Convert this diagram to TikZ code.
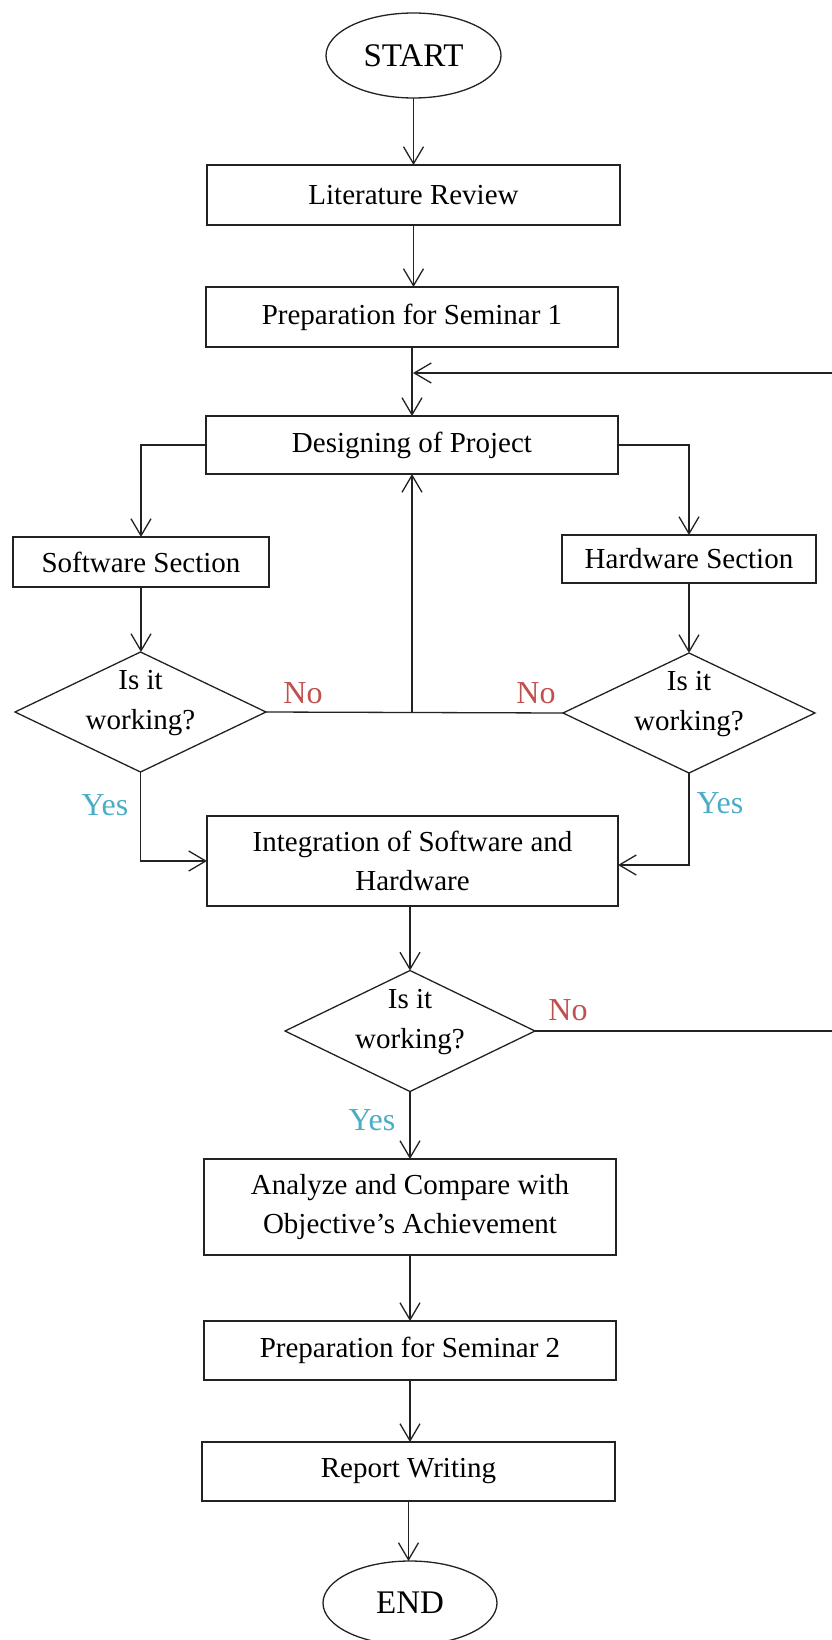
\documentclass[tikz,border=0pt]{standalone}
\usepackage{fontspec}
\setmainfont{Liberation Serif}
\usetikzlibrary{shapes.geometric,arrows.meta,calc}
\definecolor{lineC}{HTML}{222222}
\definecolor{noC}{HTML}{C0504D}
\definecolor{yesC}{HTML}{4BACC6}
\begin{document}
\begin{tikzpicture}[x=1pt,y=-1pt,
  every node/.style={inner sep=0pt, outer sep=0pt},
  procbox/.style={draw=lineC, line width=1.4pt, rectangle, align=center,
     font=\fontsize{29}{39}\selectfont},
  termnode/.style={draw=lineC, line width=1.3pt, ellipse, font=\fontsize{33}{36}\selectfont},
  decide/.style={draw=lineC, line width=1.3pt, diamond},
  dtext/.style={align=center, font=\fontsize{29}{40}\selectfont},
  arr/.style={draw=lineC, line width=1.3pt, -{Straight Barb[length=17pt,width=20pt]}},
  conn/.style={draw=lineC, line width=1.3pt},
  nolab/.style={text=noC, font=\fontsize{32}{36}\selectfont},
  yeslab/.style={text=yesC, font=\fontsize{32}{36}\selectfont}
]
\useasboundingbox (0,0) rectangle (831,1640);

\node[termnode, minimum width=175pt, minimum height=85pt] (start) at (413.5,55.5) {START};
\node[procbox, minimum width=413pt, minimum height=60pt] (lit) at (413.5,195) {Literature Review};
\node[procbox, minimum width=412pt, minimum height=60pt] (prep1) at (412,317) {Preparation for Seminar 1};
\node[procbox, minimum width=412pt, minimum height=58pt] (design) at (412,445) {Designing of Project};
\node[procbox, minimum width=256pt, minimum height=50pt] (soft) at (141,562) {Software Section};
\node[procbox, minimum width=254pt, minimum height=48pt] (hard) at (689,559) {Hardware Section};
\node[decide, minimum width=251pt, minimum height=120pt] (d1) at (140.5,712) {};
\node[dtext] (d1t) at (140.5,703) {Is it\\working?};
\node[decide, minimum width=252pt, minimum height=120pt] (d2) at (689,713) {};
\node[dtext] (d2t) at (689,704) {Is it\\working?};
\node[procbox, minimum width=411pt, minimum height=90pt] (integ) at (412.5,861) {Integration of Software and\\Hardware};
\node[decide, minimum width=250pt, minimum height=121pt] (d3) at (410,1031) {};
\node[dtext] (d3t) at (410,1022) {Is it\\working?};
\node[procbox, minimum width=412pt, minimum height=96pt] (analyze) at (410,1207) {Analyze and Compare with\\Objective’s Achievement};
\node[procbox, minimum width=412pt, minimum height=59pt] (prep2) at (410,1350.5) {Preparation for Seminar 2};
\node[procbox, minimum width=413pt, minimum height=59pt] (report) at (408.5,1471.5) {Report Writing};
\node[termnode, minimum width=174pt, minimum height=84pt] (end) at (410,1603) {END};

% labels
\node[nolab] (no1) at (303,693) {No};
\node[nolab] (no2) at (536,693) {No};
\node[nolab] (no3) at (568,1010) {No};
\node[yeslab] (yes1) at (105,805) {Yes};
\node[yeslab] (yes2) at (720,803) {Yes};
\node[yeslab] (yes3) at (372,1120) {Yes};

% connectors
\draw[arr] (start.south) -- (start.south |- lit.north);
\draw[arr] (lit.south) -- (lit.south |- prep1.north);
\draw[arr] (prep1.south) -- (design.north);
\draw[arr] (design.west) -| (soft.north);
\draw[arr] (design.east) -| (hard.north);
\draw[arr] (soft.south) -- (soft.south |- d1.north);
\draw[arr] (hard.south) -- (d2.north);
\draw[conn] (d1.east) -- (d2.west);
\coordinate (nomid) at (design.south |- d1.east);
\draw[arr] (nomid) -- (design.south);
\draw[arr] (d1.south) |- (integ.west);
\draw[arr] (d2.south) |- ([yshift=-4pt]integ.east);
\draw[arr] (integ.south -| d3.north) -- (d3.north);
\draw[arr] (d3.south) -- (analyze.north);
\draw[arr] (analyze.south) -- (prep2.north);
\draw[arr] (prep2.south) -- (prep2.south |- report.north);
\draw[arr] (report.south) -- (report.south |- end.north);
\coordinate (fbr) at (850,373);
\coordinate (fbin) at (413,373);
\draw[arr] (d3.east) -| (fbr) -- (fbin);
\end{tikzpicture}
\end{document}
